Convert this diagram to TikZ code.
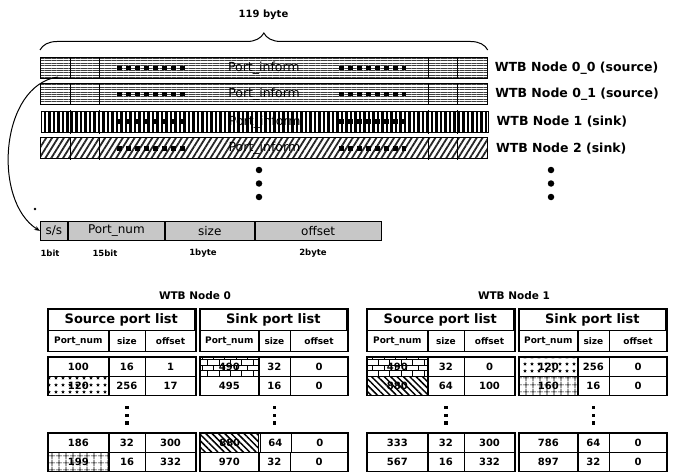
\documentclass[tikz,border=0pt]{standalone}
\usepackage{fontspec}
\setmainfont{DejaVu Sans}
\usetikzlibrary{positioning,arrows.meta,patterns,patterns.meta,decorations.pathreplacing}
\tikzset{
  wtb-bar/.style={draw,line width=1.1pt,anchor=north west,minimum width=447pt,
    minimum height=21pt,inner sep=0pt},
  pat-hline/.style={pattern={Lines[angle=0,distance=2.4pt,line width=.7pt]},pattern color=black!75},
  pat-vline/.style={pattern={Lines[angle=90,distance=4.5pt,line width=2.5pt]},pattern color=black},
  pat-slash/.style={pattern={Lines[angle=58,distance=5pt,line width=1.8pt]},pattern color=black!85},
  pat-none/.style={},
  pat-star/.style={pattern={Stars[distance=7pt,points=5,radius=1.9pt]},pattern color=black},
  pat-grid/.style={pattern={Hatch[angle=0,distance=6.5pt,line width=.7pt]},pattern color=black},
  pat-brick/.style={pattern=bricks,pattern color=black},
  pat-hatch/.style={pattern={Lines[angle=-45,distance=4.5pt,line width=1.5pt]},pattern color=black},
  inform-text/.style={font=\fontsize{12.5}{13}\selectfont,inner sep=1pt},
  bar-label/.style={anchor=west,inner sep=0pt,font=\bfseries\fontsize{12.5}{13}\selectfont},
  cell-div/.style={line width=.8pt},
  blk-dash/.style={line width=4.5pt,dash pattern=on 5pt off 4pt},
  brace-top/.style={decorate,decoration={brace,amplitude=17pt},line width=1pt},
  bigdot/.style={circle,fill,minimum size=6.5pt,inner sep=0pt},
  fld/.style={draw,line width=.9pt,fill=black!22,minimum height=19pt,inner sep=0pt,
    font=\fontsize{12}{13}\selectfont},
  bit-label/.style={font=\bfseries\fontsize{8.5}{9}\selectfont},
  node-title/.style={font=\bfseries\fontsize{10.5}{11}\selectfont},
  title-cell/.style={draw,line width=.6pt,anchor=north west,minimum width=146pt,
    minimum height=21pt,inner sep=0pt,font=\bfseries\fontsize{13}{14}\selectfont},
  head-cell/.style={draw,line width=.6pt,anchor=north west,minimum height=21pt,
    inner sep=0pt,font=\bfseries\fontsize{9}{10}\selectfont},
  data-cell/.style={draw,line width=.6pt,anchor=north west,minimum height=19pt,
    inner sep=0pt,font=\bfseries\fontsize{10}{11}\selectfont},
  tbl-frame/.style={line width=1.6pt},
  vdot/.style={rectangle,fill,minimum size=3.6pt,inner sep=0pt},
  arrow/.style={-{Stealth[length=2mm]},line width=1pt},
}
\begin{document}
\begin{tikzpicture}[x=1pt,y=-1pt]
  \useasboundingbox (0,0) rectangle (674,476);
  % port information rows of the nodes
  \foreach \i/\y/\pat/\lbl in {1/57/pat-hline/{WTB Node 0\_0 (source)},
      2/83/pat-hline/{WTB Node 0\_1 (source)}, 3/110/pat-vline/{WTB Node 1 (sink)},
      4/137/pat-slash/{WTB Node 2 (sink)}} {
    \node[wtb-bar,\pat] (r\i) at (40,\y) {};
    \foreach \dx in {30,59,388,417}
      \draw[cell-div] ([xshift=\dx pt]r\i.north west) -- ([xshift=\dx pt]r\i.south west);
    \draw[blk-dash] ([xshift=77pt]r\i.west) -- ([xshift=147pt]r\i.west);
    \draw[blk-dash] ([xshift=299pt]r\i.west) -- ([xshift=366pt]r\i.west);
    \node[inform-text] (r\i-txt) at (r\i.center) {Port\_inform};
    \node[bar-label,right=7pt of r\i] (r\i-lbl) {\lbl};
  }
  \draw[brace-top] ([yshift=7pt]r1.north west) -- ([yshift=7pt]r1.north east);
  \node[font=\bfseries\fontsize{10}{11}\selectfont] (nbytes) at (263.5,15) {119 byte};
  \node[bigdot] (md1) at (259,170) {};
  \node[bigdot] (md2) at (259,183.5) {};
  \node[bigdot] (md3) at (259,197) {};
  \node[bigdot] (rd1) at (551,170) {};
  \node[bigdot] (rd2) at (551,183.5) {};
  \node[bigdot] (rd3) at (551,197) {};
  % one port entry
  \node[fld,anchor=north west,minimum width=27pt] (ss) at (40,221) {s/s};
  \node[fld,minimum width=96pt,right=0pt of ss] (pnum) {Port\_num};
  \node[fld,minimum width=89pt,right=0pt of pnum] (psize) {size};
  \node[fld,minimum width=126pt,right=0pt of psize] (poff) {offset};
  \node[bit-label] (b-ss) at (50,253) {1bit};
  \node[bit-label] (b-num) at (105,253) {15bit};
  \node[bit-label] (b-size) at (203,253) {1byte};
  \node[bit-label] (b-off) at (313,253) {2byte};
  \coordinate (tap) at (58,77);
  \draw[arrow] (tap) .. controls +(-58,8) and +(-48,-30) .. (ss.west);
  \fill (35,209) circle (1.4pt);
  % port lists
  \node[node-title] (n0-title) at (195,296) {WTB Node 0};
  \node[node-title] (n1-title) at (514,296) {WTB Node 1};
  \foreach \tn/\tx/\wa/\wb/\wc/\ttl in {s0/48/60/36/50/Source, k0/200/58/31/57/Sink,
      s1/367/60/36/50/Source, k1/519/58/31/57/Sink} {
    \node[title-cell] (\tn-t) at (\tx,309) {\ttl\ port list};
    \node[head-cell,minimum width=\wa pt] (\tn-h1) at (\tx,330) {Port\_num};
    \node[head-cell,minimum width=\wb pt,right=0pt of \tn-h1] (\tn-h2) {size};
    \node[head-cell,minimum width=\wc pt,right=0pt of \tn-h2] (\tn-h3) {offset};
    \draw[tbl-frame] (\tn-t.north west) rectangle (\tn-h3.south east);
  }
  \foreach \tn/\tx/\wa/\wb/\wc/\y/\a/\b/\c/\p in {
      s0/48/60/36/50/357/100/16/1/pat-none, s0/48/60/36/50/376/120/256/17/pat-star,
      s0/48/60/36/50/433/186/32/300/pat-none, s0/48/60/36/50/452/199/16/332/pat-grid,
      k0/200/58/31/57/357/490/32/0/pat-brick, k0/200/58/31/57/376/495/16/0/pat-none,
      k0/200/58/31/57/433/880/64/0/pat-hatch, k0/200/58/31/57/452/970/32/0/pat-none,
      s1/367/60/36/50/357/490/32/0/pat-brick, s1/367/60/36/50/376/880/64/100/pat-hatch,
      s1/367/60/36/50/433/333/32/300/pat-none, s1/367/60/36/50/452/567/16/332/pat-none,
      k1/519/58/31/57/357/120/256/0/pat-star, k1/519/58/31/57/376/160/16/0/pat-grid,
      k1/519/58/31/57/433/786/64/0/pat-none, k1/519/58/31/57/452/897/32/0/pat-none} {
    \node[data-cell,\p,minimum width=\wa pt] (\tn-\y-a) at (\tx,\y) {\a};
    \node[data-cell,minimum width=\wb pt,right=0pt of \tn-\y-a] (\tn-\y-b) {\b};
    \node[data-cell,minimum width=\wc pt,right=0pt of \tn-\y-b] (\tn-\y-c) {\c};
  }
  \foreach \tn in {s0,k0,s1,k1} {
    \draw[tbl-frame] (\tn-357-a.north west) rectangle (\tn-376-c.south east);
    \draw[tbl-frame] (\tn-433-a.north west) rectangle (\tn-452-c.south east);
    \node[vdot,below=10pt of \tn-376-b] (\tn-d1) {};
    \node[vdot,below=3.8pt of \tn-d1] (\tn-d2) {};
    \node[vdot,below=3.8pt of \tn-d2] (\tn-d3) {};
  }
\end{tikzpicture}
\end{document}
